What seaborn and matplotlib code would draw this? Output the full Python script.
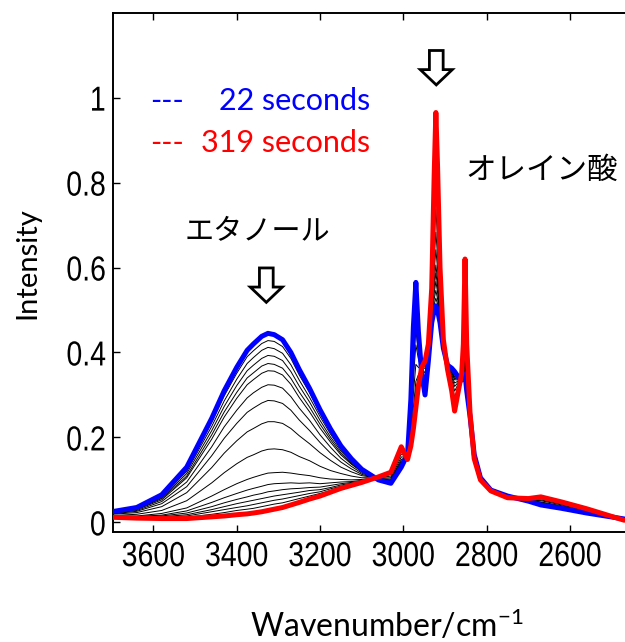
import matplotlib
matplotlib.use("Agg")
import matplotlib.pyplot as plt
import seaborn as sns
from matplotlib.patches import FancyArrow
from matplotlib.patheffects import AbstractPathEffect
from matplotlib.transforms import Affine2D

# ---------------- data ----------------
wavenumber = [3700, 3640, 3580, 3520, 3460, 3430, 3400, 3375, 3360, 3340,
              3325, 3310, 3290, 3270, 3250, 3225, 3200, 3175, 3150, 3125,
              3100, 3060, 3030, 3005, 2990, 2982, 2976, 2970, 2964, 2956,
              2948, 2940, 2932, 2926, 2922, 2918, 2912, 2904, 2894, 2884,
              2877, 2868, 2860, 2856, 2852, 2848, 2840, 2830, 2815, 2790,
              2750, 2700, 2670, 2620, 2560, 2470]

blue_22s = [0.025, 0.035, 0.065, 0.13, 0.245, 0.31, 0.365, 0.405, 0.42, 0.438,
            0.445, 0.442, 0.43, 0.40, 0.36, 0.315, 0.265, 0.22, 0.18, 0.15,
            0.125, 0.10, 0.092, 0.13, 0.16, 0.29, 0.46, 0.565, 0.45, 0.35,
            0.30, 0.38, 0.47, 0.50, 0.51, 0.50, 0.47, 0.41, 0.37, 0.363,
            0.355, 0.342, 0.335, 0.345, 0.35, 0.31, 0.25, 0.16, 0.105, 0.076,
            0.062, 0.05, 0.041, 0.033, 0.022, 0.008]

red_319s = [0.012, 0.010, 0.009, 0.009, 0.013, 0.015, 0.018, 0.020, 0.022, 0.025,
            0.028, 0.031, 0.035, 0.041, 0.047, 0.055, 0.062, 0.071, 0.080, 0.087,
            0.094, 0.107, 0.118, 0.178, 0.148, 0.180, 0.220, 0.270, 0.320, 0.365,
            0.380, 0.420, 0.550, 0.820, 0.965, 0.840, 0.600, 0.430, 0.360, 0.310,
            0.262, 0.310, 0.350, 0.420, 0.620, 0.420, 0.257, 0.150, 0.100, 0.074,
            0.058, 0.056, 0.060, 0.048, 0.032, 0.005]

mid_01 = [0.024, 0.034, 0.063, 0.125, 0.236, 0.298, 0.351, 0.390, 0.404, 0.421, 0.428, 0.426, 0.414, 0.386, 0.347, 0.305, 0.257, 0.214, 0.176, 0.148, 0.124,
          0.100, 0.093, 0.132, 0.160, 0.286, 0.450, 0.553, 0.445, 0.351, 0.303, 0.382, 0.473, 0.513, 0.528, 0.514, 0.475, 0.411, 0.370, 0.361, 0.351, 0.341, 0.336, 0.348, 0.361, 0.314, 0.250, 0.160, 0.105, 0.076, 0.062, 0.050, 0.042, 0.034, 0.022, 0.008]
mid_02 = [0.024, 0.033, 0.061, 0.120, 0.226, 0.286, 0.337, 0.374, 0.388, 0.405, 0.412, 0.409, 0.398, 0.371, 0.335, 0.294, 0.249, 0.208, 0.172, 0.145, 0.123,
          0.101, 0.094, 0.134, 0.159, 0.281, 0.441, 0.541, 0.440, 0.351, 0.306, 0.383, 0.476, 0.526, 0.546, 0.527, 0.480, 0.412, 0.369, 0.359, 0.348, 0.339, 0.336, 0.351, 0.372, 0.319, 0.251, 0.159, 0.105, 0.076, 0.062, 0.050, 0.043, 0.034, 0.023, 0.008]
mid_03 = [0.023, 0.032, 0.058, 0.115, 0.216, 0.273, 0.322, 0.357, 0.370, 0.386, 0.393, 0.391, 0.381, 0.355, 0.321, 0.283, 0.240, 0.201, 0.168, 0.142, 0.121,
          0.101, 0.095, 0.136, 0.159, 0.276, 0.430, 0.528, 0.434, 0.352, 0.310, 0.385, 0.480, 0.540, 0.567, 0.543, 0.486, 0.413, 0.369, 0.356, 0.343, 0.338, 0.337, 0.354, 0.384, 0.324, 0.251, 0.159, 0.104, 0.076, 0.062, 0.051, 0.043, 0.035, 0.023, 0.008]
mid_04 = [0.023, 0.031, 0.056, 0.109, 0.206, 0.260, 0.306, 0.340, 0.352, 0.368, 0.374, 0.372, 0.363, 0.339, 0.307, 0.271, 0.231, 0.195, 0.163, 0.139, 0.120,
          0.101, 0.096, 0.138, 0.158, 0.271, 0.419, 0.515, 0.428, 0.353, 0.314, 0.387, 0.484, 0.554, 0.587, 0.558, 0.492, 0.413, 0.368, 0.354, 0.339, 0.337, 0.338, 0.358, 0.396, 0.329, 0.251, 0.158, 0.104, 0.076, 0.061, 0.051, 0.044, 0.036, 0.024, 0.007]
mid_05 = [0.022, 0.030, 0.053, 0.105, 0.196, 0.248, 0.292, 0.324, 0.336, 0.351, 0.357, 0.356, 0.347, 0.325, 0.294, 0.260, 0.222, 0.189, 0.159, 0.137, 0.119,
          0.102, 0.098, 0.140, 0.158, 0.267, 0.410, 0.503, 0.423, 0.353, 0.317, 0.388, 0.487, 0.567, 0.606, 0.571, 0.497, 0.414, 0.368, 0.352, 0.336, 0.335, 0.338, 0.361, 0.407, 0.333, 0.251, 0.158, 0.104, 0.076, 0.061, 0.051, 0.045, 0.036, 0.024, 0.007]
mid_06 = [0.021, 0.028, 0.049, 0.095, 0.178, 0.225, 0.264, 0.293, 0.305, 0.318, 0.324, 0.323, 0.316, 0.296, 0.269, 0.240, 0.206, 0.177, 0.151, 0.132, 0.116,
          0.102, 0.100, 0.144, 0.157, 0.258, 0.390, 0.480, 0.412, 0.354, 0.323, 0.392, 0.493, 0.593, 0.642, 0.599, 0.508, 0.416, 0.367, 0.348, 0.328, 0.333, 0.339, 0.367, 0.428, 0.342, 0.252, 0.157, 0.104, 0.075, 0.061, 0.052, 0.047, 0.037, 0.025, 0.007]
mid_07 = [0.020, 0.026, 0.044, 0.084, 0.157, 0.198, 0.233, 0.259, 0.269, 0.281, 0.287, 0.286, 0.280, 0.264, 0.241, 0.216, 0.188, 0.163, 0.142, 0.126, 0.113,
          0.103, 0.102, 0.148, 0.155, 0.248, 0.369, 0.453, 0.401, 0.356, 0.330, 0.395, 0.500, 0.622, 0.683, 0.629, 0.519, 0.418, 0.366, 0.343, 0.320, 0.330, 0.341, 0.374, 0.453, 0.352, 0.253, 0.156, 0.103, 0.075, 0.060, 0.052, 0.048, 0.039, 0.026, 0.007]
mid_08 = [0.019, 0.023, 0.037, 0.070, 0.129, 0.163, 0.192, 0.213, 0.221, 0.232, 0.237, 0.237, 0.233, 0.221, 0.204, 0.185, 0.164, 0.146, 0.130, 0.119, 0.110,
          0.104, 0.105, 0.154, 0.154, 0.235, 0.340, 0.418, 0.385, 0.358, 0.340, 0.400, 0.510, 0.660, 0.738, 0.670, 0.535, 0.420, 0.365, 0.337, 0.309, 0.326, 0.343, 0.383, 0.485, 0.365, 0.254, 0.155, 0.103, 0.075, 0.060, 0.053, 0.051, 0.041, 0.027, 0.007]
mid_09 = [0.016, 0.019, 0.028, 0.051, 0.093, 0.117, 0.138, 0.153, 0.159, 0.168, 0.172, 0.173, 0.171, 0.165, 0.155, 0.145, 0.132, 0.122, 0.115, 0.109, 0.105,
          0.105, 0.109, 0.161, 0.152, 0.218, 0.303, 0.372, 0.365, 0.360, 0.352, 0.406, 0.522, 0.710, 0.808, 0.723, 0.555, 0.423, 0.363, 0.328, 0.294, 0.321, 0.345, 0.394, 0.527, 0.382, 0.255, 0.153, 0.102, 0.075, 0.059, 0.054, 0.053, 0.043, 0.029, 0.006]
mid_10 = [0.015, 0.015, 0.021, 0.034, 0.062, 0.077, 0.091, 0.101, 0.106, 0.112, 0.116, 0.117, 0.118, 0.116, 0.113, 0.110, 0.105, 0.102, 0.101, 0.100, 0.101,
          0.106, 0.113, 0.168, 0.151, 0.203, 0.270, 0.332, 0.347, 0.362, 0.363, 0.412, 0.533, 0.753, 0.869, 0.769, 0.573, 0.426, 0.362, 0.321, 0.282, 0.317, 0.347, 0.404, 0.563, 0.397, 0.256, 0.152, 0.101, 0.074, 0.059, 0.055, 0.056, 0.045, 0.030, 0.006]
mid_11 = [0.014, 0.014, 0.017, 0.027, 0.047, 0.058, 0.068, 0.076, 0.080, 0.085, 0.089, 0.091, 0.092, 0.093, 0.092, 0.093, 0.091, 0.093, 0.095, 0.096, 0.099,
          0.106, 0.114, 0.171, 0.150, 0.196, 0.255, 0.313, 0.339, 0.363, 0.368, 0.414, 0.538, 0.774, 0.899, 0.791, 0.581, 0.427, 0.361, 0.318, 0.276, 0.315, 0.348, 0.409, 0.581, 0.404, 0.256, 0.151, 0.101, 0.074, 0.059, 0.055, 0.057, 0.046, 0.031, 0.005]
mid_12 = [0.013, 0.013, 0.015, 0.022, 0.037, 0.046, 0.054, 0.060, 0.064, 0.068, 0.072, 0.074, 0.077, 0.079, 0.080, 0.082, 0.083, 0.087, 0.091, 0.094, 0.097,
          0.106, 0.115, 0.173, 0.149, 0.192, 0.245, 0.301, 0.334, 0.363, 0.372, 0.416, 0.542, 0.786, 0.917, 0.804, 0.586, 0.428, 0.361, 0.316, 0.272, 0.313, 0.348, 0.412, 0.592, 0.408, 0.256, 0.151, 0.101, 0.074, 0.058, 0.055, 0.058, 0.046, 0.031, 0.005]
mid_13 = [0.013, 0.012, 0.013, 0.018, 0.030, 0.037, 0.044, 0.049, 0.052, 0.056, 0.059, 0.062, 0.065, 0.068, 0.071, 0.075, 0.077, 0.082, 0.088, 0.092, 0.096,
          0.107, 0.116, 0.174, 0.149, 0.188, 0.238, 0.292, 0.330, 0.364, 0.374, 0.417, 0.544, 0.796, 0.931, 0.815, 0.590, 0.429, 0.361, 0.314, 0.269, 0.312, 0.349, 0.414, 0.600, 0.412, 0.257, 0.151, 0.100, 0.074, 0.058, 0.056, 0.059, 0.047, 0.031, 0.005]
mid_14 = [0.013, 0.011, 0.012, 0.015, 0.025, 0.030, 0.035, 0.039, 0.042, 0.046, 0.049, 0.052, 0.055, 0.059, 0.063, 0.068, 0.072, 0.079, 0.085, 0.090, 0.096,
          0.107, 0.117, 0.176, 0.149, 0.186, 0.232, 0.285, 0.327, 0.364, 0.376, 0.418, 0.546, 0.804, 0.942, 0.823, 0.594, 0.429, 0.360, 0.313, 0.267, 0.312, 0.349, 0.416, 0.607, 0.415, 0.257, 0.150, 0.100, 0.074, 0.058, 0.056, 0.059, 0.047, 0.032, 0.005]
mid_15 = [0.012, 0.011, 0.011, 0.012, 0.019, 0.023, 0.028, 0.031, 0.033, 0.037, 0.040, 0.043, 0.046, 0.051, 0.056, 0.062, 0.068, 0.075, 0.083, 0.089, 0.095,
          0.107, 0.117, 0.177, 0.148, 0.183, 0.227, 0.278, 0.324, 0.365, 0.378, 0.419, 0.548, 0.811, 0.952, 0.830, 0.596, 0.429, 0.360, 0.311, 0.265, 0.311, 0.350, 0.418, 0.612, 0.417, 0.257, 0.150, 0.100, 0.074, 0.058, 0.056, 0.059, 0.048, 0.032, 0.005]

x_ticks = [3600, 3400, 3200, 3000, 2800, 2600]
x_tick_labels = ["3600", "3400", "3200", "3000", "2800", "2600"]
y_ticks = [0, 0.2, 0.4, 0.6, 0.8, 1.0]
y_tick_labels = ["0", "0.2", "0.4", "0.6", "0.8", "1"]

legend_dash = "---"
legend_first = "22 seconds"
legend_last = "319 seconds"
label_ethanol = "エタノール"
label_oleic = "オレイン酸"
x_label = "Wavenumber/cm$^{\\mathregular{-1}}$"
y_label = "Intensity"


class Narrow(AbstractPathEffect):
    """Squeeze text glyphs horizontally (narrow-font look)."""

    def __init__(self, sx, anchor="center"):
        super().__init__()
        self.sx = sx
        self.anchor = anchor

    def draw_path(self, renderer, gc, tpath, affine, rgbFace=None):
        ext = tpath.get_extents(affine)
        x0 = ext.x0 + ext.width / 2 if self.anchor == "center" else ext.x1
        t = affine + Affine2D().translate(-x0, 0).scale(self.sx, 1).translate(x0, 0)
        renderer.draw_path(gc, tpath, t, rgbFace)


# ---------------- style ----------------
sns.set_theme(style="ticks")
plt.rcParams["font.family"] = ["Lato", "Noto Sans CJK JP", "DejaVu Sans"]
plt.rcParams["mathtext.fontset"] = "custom"
plt.rcParams["mathtext.rm"] = "Lato"
plt.rcParams["mathtext.it"] = "Lato:italic"

W, H = 625, 642
fig = plt.figure(figsize=(W / 100, H / 100), dpi=100)
ax = fig.add_axes([113 / W, 1 - 531.7 / H, 1 - 113 / W, (531.7 - 12.7) / H])

intermediate = [mid_01, mid_02, mid_03, mid_04, mid_05, mid_06, mid_07, mid_08,
                mid_09, mid_10, mid_11, mid_12, mid_13, mid_14, mid_15]
for vals in intermediate:
    sns.lineplot(x=wavenumber, y=vals, ax=ax, color="black", lw=0.7,
                 sort=False, estimator=None, zorder=2)
sns.lineplot(x=wavenumber, y=blue_22s, ax=ax, color="#0000ff", lw=3.6,
             sort=False, estimator=None, zorder=3)
sns.lineplot(x=wavenumber, y=red_319s, ax=ax, color="#ff0000", lw=3.6,
             sort=False, estimator=None, zorder=4)

ax.set_xlim(3697, 2468)
ax.set_ylim(-0.022, 1.2)
ax.set_xlabel("")
ax.set_ylabel("")
tick_font = dict(family="Liberation Sans", size=25)
ax.set_xticks(x_ticks)
ax.set_xticklabels(x_tick_labels, fontdict=tick_font)
ax.set_yticks(y_ticks)
ax.set_yticklabels(y_tick_labels, fontdict=tick_font)
for lab in ax.get_xticklabels():
    lab.set_path_effects([Narrow(0.82, "center")])
for lab in ax.get_yticklabels():
    lab.set_path_effects([Narrow(0.82, "right")])
ax.tick_params(axis="x", direction="in", length=5, width=1, top=True, bottom=True,
               pad=6, colors="black")
ax.tick_params(axis="y", direction="in", length=5, width=1, left=True, right=False,
               pad=5, colors="black")
for side in ["top", "left", "bottom"]:
    ax.spines[side].set_linewidth(1.4)
    ax.spines[side].set_color("black")
ax.spines["right"].set_visible(False)

# arrows pointing at the bands
for xc, ytop in [(3329, 0.599), (2921, 1.111)]:
    ax.add_patch(FancyArrow(xc, ytop, 0, -0.081, width=33, head_width=77,
                            head_length=0.036, length_includes_head=True,
                            fc="white", ec="black", lw=2, zorder=6))


def fx(px):
    return px / W


def fy(py):
    return 1 - py / H


fig.text(fx(150), fy(110), legend_dash, color="#0000ff", fontsize=22, ha="left", va="baseline")
fig.text(fx(370), fy(110), legend_first, color="#0000ff", fontsize=22, ha="right", va="baseline")
fig.text(fx(150), fy(152), legend_dash, color="#ff0000", fontsize=22, ha="left", va="baseline")
fig.text(fx(370), fy(152), legend_last, color="#ff0000", fontsize=22, ha="right", va="baseline")

fig.text(fx(542), fy(170), label_oleic, family=["Noto Sans CJK JP", "DejaVu Sans"],
         fontsize=22, ha="center", va="center", color="black")
fig.text(fx(257), fy(232), label_ethanol, family=["Noto Sans CJK JP", "DejaVu Sans"],
         fontsize=21, ha="center", va="center", color="black")

fig.text(fx(387), fy(637), x_label, fontsize=23, ha="center", va="baseline", color="black")
fig.text(fx(27), fy(263), y_label, fontsize=21, rotation=90, ha="center", va="center",
         color="black")

fig.savefig("out.png", dpi=100, facecolor="white")
